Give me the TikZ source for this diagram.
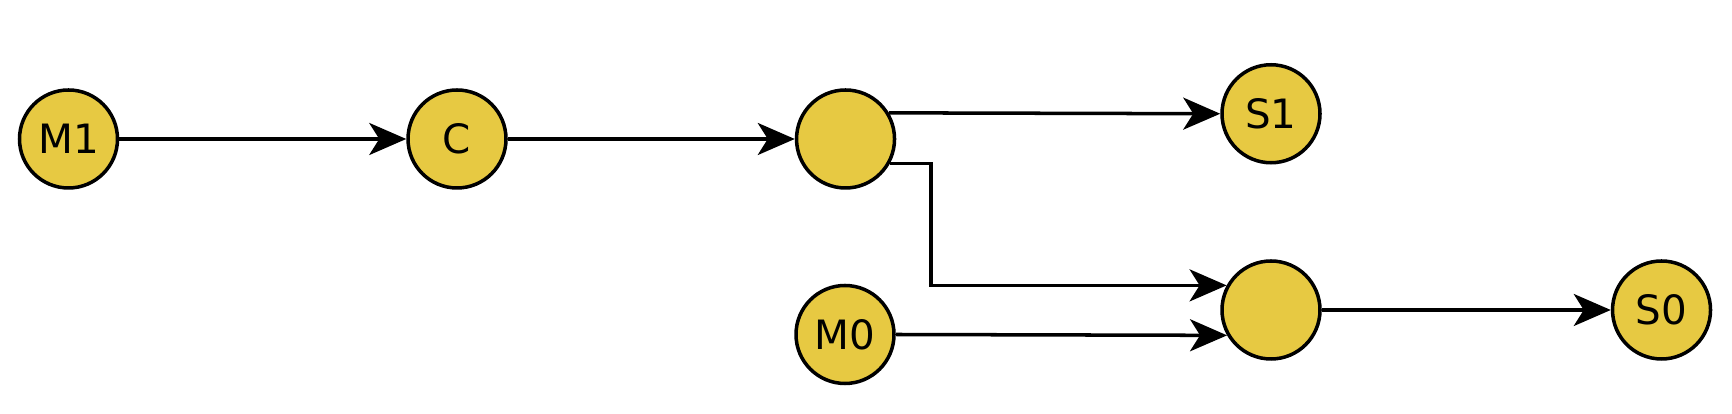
\documentclass[tikz,border=0pt]{standalone}
\usepackage{fontspec}
\setmainfont{DejaVu Sans}
\usetikzlibrary{arrows.meta, positioning}
\definecolor{placefill}{HTML}{E7C942}

\begin{document}
\begin{tikzpicture}[font=\fontsize{11.5}{13}\selectfont,
    line width=1pt,
    place/.style={draw, circle, fill=placefill, minimum size=0.98cm, inner sep=0pt},
    flow/.style={-{Stealth[length=0.37cm, width=0.32cm, inset=0.1cm]}}]

\useasboundingbox (0,0) rectangle (17.32,-4.14);

% places
\node[place] (M1) at (0.685,-1.39) {M1};
\node[place, right=2.87cm of M1] (C) {C};
\node[place, right=2.87cm of C] (J1) {};
\node[place] (S1) at (12.71,-1.1376) {S1};
\node[place] (J2) at (12.71,-3.10) {};
\node[place] (M0) at (8.45,-3.345) {M0};
\node[place, right=2.89cm of J2] (S0) {S0};

% arrows
\draw[flow] (M1) -- (C);
\draw[flow] (C) -- (J1);
\draw[flow] (J1.31) -- (S1.west);
\draw[flow] (J1.-29) -- ++(0.41,0) |- (J2.151);
\draw[flow] (M0.east) -- (J2.210);
\draw[flow] (J2) -- (S0);

\end{tikzpicture}
\end{document}
